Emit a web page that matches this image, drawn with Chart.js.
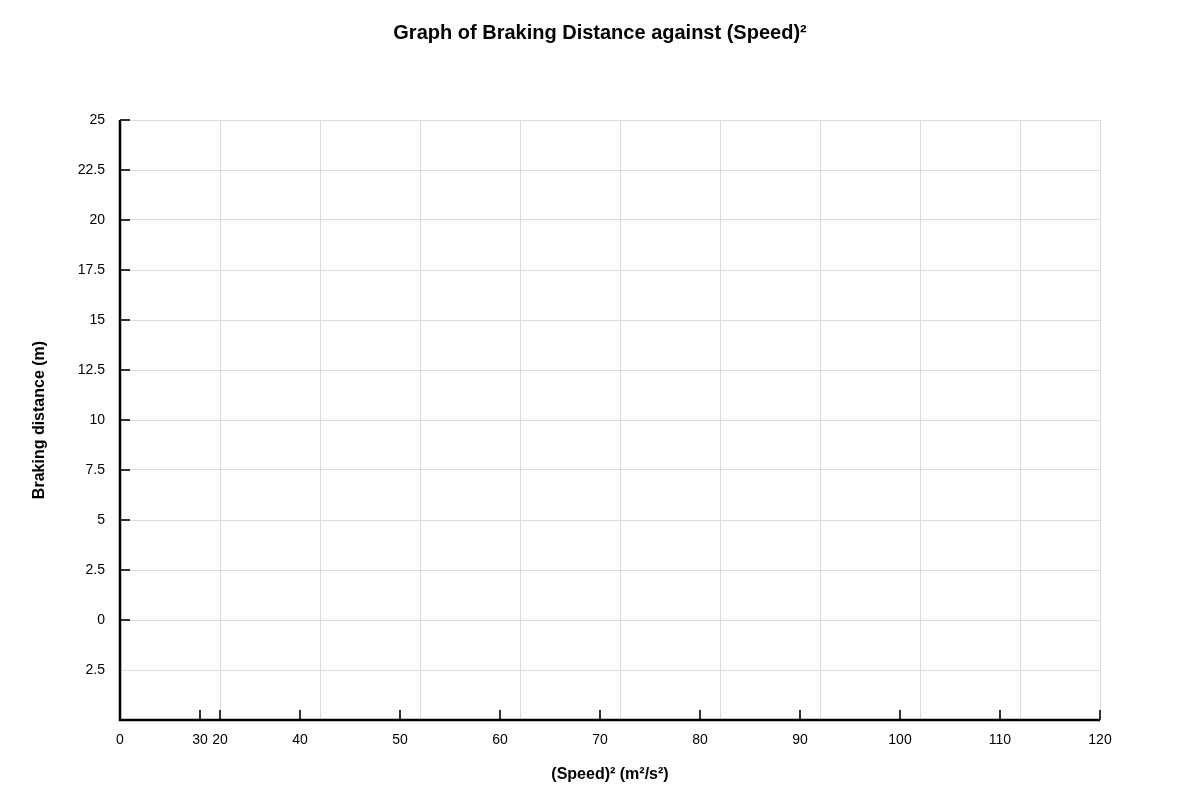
<!DOCTYPE html>
<html><head><meta charset="utf-8">
<script src="https://cdn.jsdelivr.net/npm/chart.js@4"></script>
<style>html,body{margin:0;padding:0;background:#fff}#wrap{width:1200px;height:800px}</style>
</head><body><div id="wrap"><canvas id="c"></canvas></div>
<script>
// x scale: positions in the chart's own (irregular) tick layout
const xGridValues = [10,20,30,40,50,60,70,80,90,98];
const xTickValues = [0,8,10,18,28,38,48,58,68,78,88,98];
const xTickLabels = ["0","30","20","40","50","60","70","80","90","100","110","120"];
const xMarkValues = [8,10,18,28,38,48,58,68,78,88,98];
const yTickValues = [25,22.5,20,17.5,15,12.5,10,7.5,5,2.5,0,-2.5,-5];
const yTickLabels = ["25","22.5","20","17.5","15","12.5","10","7.5","5","2.5","0","2.5",""];
const yMarkValues = [25,22.5,20,17.5,15,12.5,10,7.5,5,2.5,0];
const TITLE = 'Graph of Braking Distance against (Speed)²';
const FONT = "'Liberation Sans', Arial, sans-serif";

const innerTicks = {
  id:'innerTicks',
  afterDraw(chart){
    const {ctx, chartArea:a} = chart; const xs = chart.scales.x2, ys = chart.scales.y;
    ctx.save(); ctx.strokeStyle='#333'; ctx.lineWidth=2;
    xMarkValues.forEach(v=>{const p=xs.getPixelForValue(v);ctx.beginPath();ctx.moveTo(p,a.bottom);ctx.lineTo(p,a.bottom-10);ctx.stroke();});
    yMarkValues.forEach(v=>{const p=ys.getPixelForValue(v);ctx.beginPath();ctx.moveTo(a.left,p);ctx.lineTo(a.left+10,p);ctx.stroke();});
    ctx.strokeStyle='#000'; ctx.lineWidth=2.5;
    ctx.beginPath();ctx.moveTo(a.left,a.top);ctx.lineTo(a.left,a.bottom);ctx.lineTo(a.right,a.bottom);ctx.stroke();
    ctx.fillStyle='#000'; ctx.font='bold 20px '+FONT; ctx.textAlign='center'; ctx.textBaseline='middle';
    ctx.fillText(TITLE, chart.width/2, 33);
    ctx.restore();
  }
};

new Chart(document.getElementById('c'),{
  type:'scatter',
  data:{datasets:[{data:[]}]},
  plugins:[innerTicks],
  options:{
    responsive:true, maintainAspectRatio:false, animation:false,
    layout:{padding:{top:120,right:100,left:0,bottom:0}},
    plugins:{legend:{display:false}, tooltip:{enabled:false}, title:{display:false}},
    scales:{
      x:{type:'linear',position:'bottom',min:0,max:98,
        afterBuildTicks(s){s.ticks=xGridValues.map(v=>({value:v}));},
        afterFit(s){s.height=0;},
        ticks:{display:false},
        grid:{color:'#dcdcdc',lineWidth:1,drawTicks:false},
        border:{display:false}},
      x2:{type:'linear',position:'bottom',min:0,max:98,
        afterBuildTicks(s){s.ticks=xTickValues.map(v=>({value:v}));},
        afterFit(s){s.height=80;},
        ticks:{color:'#000',font:{family:FONT,size:14},padding:12,autoSkip:false,maxRotation:0,
          callback:(v)=>xTickLabels[xTickValues.indexOf(v)]},
        grid:{display:false,drawTicks:false},
        border:{display:false},
        title:{display:true,text:'(Speed)² (m²/s²)',color:'#000',font:{family:FONT,size:16,weight:'bold'},padding:{top:16,bottom:16}}},
      y:{type:'linear',min:-5,max:25,
        afterBuildTicks(s){s.ticks=yTickValues.map(v=>({value:v}));},
        afterFit(s){s.width=120;},
        ticks:{color:'#000',font:{family:FONT,size:14},padding:15,autoSkip:false,
          callback:(v)=>yTickLabels[yTickValues.indexOf(v)]},
        grid:{color:(c)=>c.tick&&c.tick.value===-5?'rgba(0,0,0,0)':'#dcdcdc',lineWidth:1,drawTicks:false},
        border:{display:false},
        title:{display:true,text:'Braking distance (m)',color:'#000',font:{family:FONT,size:16,weight:'bold'},padding:{top:30,bottom:0}}}
    }
  }
});
</script></body></html>
